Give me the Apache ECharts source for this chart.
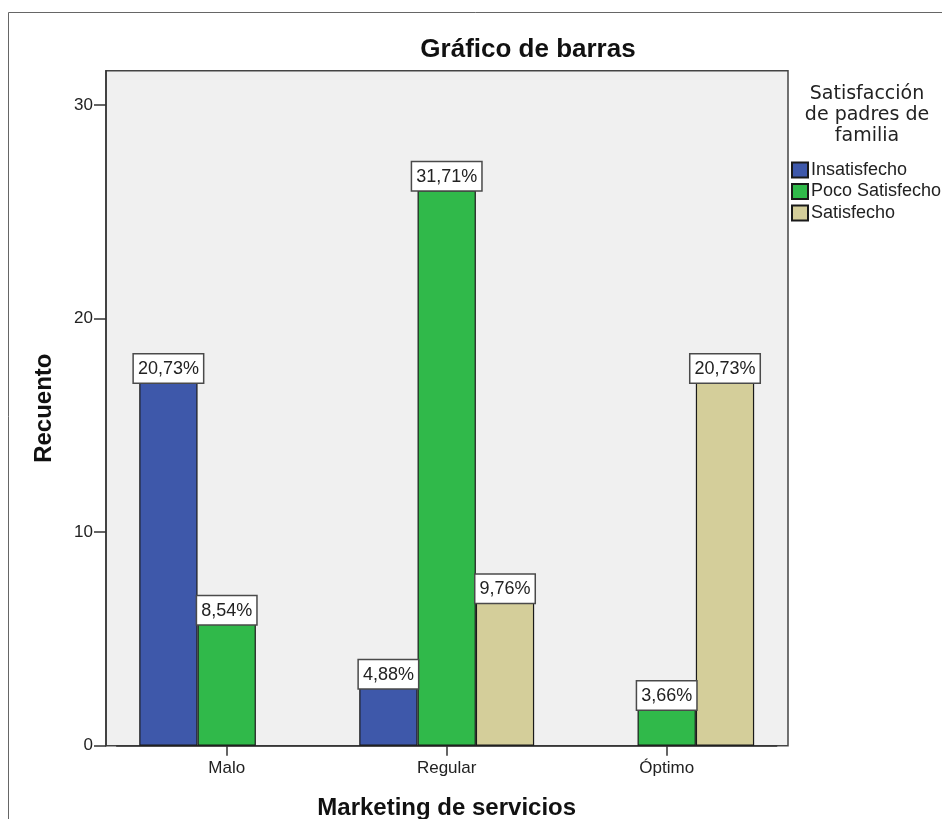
<!DOCTYPE html>
<html>
<head>
<meta charset="utf-8">
<script src="https://cdn.jsdelivr.net/npm/echarts@6/dist/echarts.min.js"></script>
<style>
html,body{margin:0;padding:0;background:#fff;}
#chart{width:942px;height:819px;}
</style>
</head>
<body>
<div id="chart"></div>
<script>
// ---- data ----
const categories = ['Malo', 'Regular', 'Óptimo'];
const seriesNames = ['Insatisfecho', 'Poco Satisfecho', 'Satisfecho'];
const insatisfecho = [17, 4, 0];
const pocoSatisfecho = [7, 26, 3];
const satisfecho = [0, 8, 17];
const yTicks = [0, 10, 20, 30];
const yMax = 31.6;
const chartTitle = 'Gráfico de barras';
const legendTitle = ['Satisfacción', 'de padres de', 'familia'];
const xTitle = 'Marketing de servicios';
const yTitle = 'Recuento';

// ---- build ----
const total = [insatisfecho, pocoSatisfecho, satisfecho]
  .reduce((s, arr) => s + arr.reduce((a, b) => a + b, 0), 0);
const colors = ['#3e58aa', '#30b94a', '#d4ce9a'];
const FONT = '"Liberation Sans", Arial, sans-serif';

function mkSeries(name, values, color) {
  return {
    name: name,
    type: 'bar',
    xAxisIndex: 1,
    yAxisIndex: 1,
    barGap: '0%',
    barCategoryGap: '20.5%',
    itemStyle: { color: color, borderColor: '#1a1a1a', borderWidth: 1.2 },
    label: {
      show: true,
      distance: 0,
      formatter: p => (p.value / total * 100).toFixed(2).replace('.', ',') + '%',
      color: '#222',
      fontFamily: FONT,
      fontSize: 18,
      lineHeight: 21,
      backgroundColor: '#fff',
      borderColor: '#4a4a4a',
      borderWidth: 1.5,
      padding: [4, 4, 3, 4]
    },
    data: values.map(v => v === 0 ? '-' : {
      value: v,
      label: { position: v > 10 ? 'top' : 'insideTop' }
    })
  };
}

const chart = echarts.init(document.getElementById('chart'), null, { renderer: 'canvas' });
chart.setOption({
  backgroundColor: '#fff',
  animation: false,
  graphic: [
    { type: 'rect', z: -10, silent: true,
      shape: { x: 8.5, y: 12.5, width: 1200, height: 1200 },
      style: { fill: 'none', stroke: '#666', lineWidth: 1 } },
    { type: 'text', silent: true,
      style: { text: chartTitle, x: 528, y: 50, align: 'center', verticalAlign: 'middle',
        textAlign: 'center', textVerticalAlign: 'middle',
        font: 'bold 26px ' + FONT, fill: '#111' } },
    { type: 'text', silent: true,
      style: { text: legendTitle.join('\n'), x: 867, y: 115, align: 'center', verticalAlign: 'middle',
        textAlign: 'center', textVerticalAlign: 'middle', lineHeight: 21,
        font: '19px "DejaVu Sans", sans-serif', fill: '#222' } }
  ],
  legend: {
    orient: 'vertical',
    left: 791,
    top: 161,
    padding: 0,
    itemWidth: 16,
    itemHeight: 15,
    itemGap: 3.5,
    icon: 'rect',
    data: seriesNames,
    textStyle: { fontFamily: FONT, fontSize: 18, color: '#222', padding: [0, 0, 0, -2] }
  },
  grid: [
    { left: 106, right: 154, top: 70.7, bottom: 73.3, show: true, outerBoundsMode: 'none',
      backgroundColor: '#f0f0f0', borderColor: '#444', borderWidth: 1.5, containLabel: false },
    { left: 116.7, right: 165.3, top: 70.7, bottom: 73.3, outerBoundsMode: 'none', containLabel: false }
  ],
  xAxis: [
    { type: 'value', gridIndex: 0, show: false, min: 0, max: 1 },
    { type: 'category', gridIndex: 1, data: categories,
      axisLine: { show: true, lineStyle: { color: '#333', width: 1.5 } },
      axisTick: { show: true, alignWithLabel: true, length: 10, lineStyle: { color: '#333', width: 1.5 } },
      axisLabel: { fontFamily: FONT, fontSize: 17, color: '#222', margin: 13, lineHeight: 20 },
      name: xTitle, nameLocation: 'middle', nameGap: 49,
      nameTextStyle: { fontFamily: FONT, fontSize: 24, fontWeight: 'bold', color: '#111', lineHeight: 28 }
    }
  ],
  yAxis: [
    { type: 'value', gridIndex: 0, min: 0, max: yMax,
      axisLine: { show: true, lineStyle: { color: '#333', width: 1.5 } },
      axisTick: { show: true, customValues: yTicks, length: 12, lineStyle: { color: '#333', width: 1.5 } },
      axisLabel: { customValues: yTicks, fontFamily: FONT, fontSize: 17, color: '#222', margin: 13 },
      splitLine: { show: false },
      name: yTitle, nameLocation: 'middle', nameGap: 47, nameRotate: 90,
      nameTextStyle: { fontFamily: FONT, fontSize: 24, fontWeight: 'bold', color: '#111', lineHeight: 30 }
    },
    { type: 'value', gridIndex: 1, min: 0, max: yMax, show: false }
  ],
  series: [
    mkSeries(seriesNames[0], insatisfecho, colors[0]),
    mkSeries(seriesNames[1], pocoSatisfecho, colors[1]),
    mkSeries(seriesNames[2], satisfecho, colors[2])
  ]
});
</script>
</body>
</html>
